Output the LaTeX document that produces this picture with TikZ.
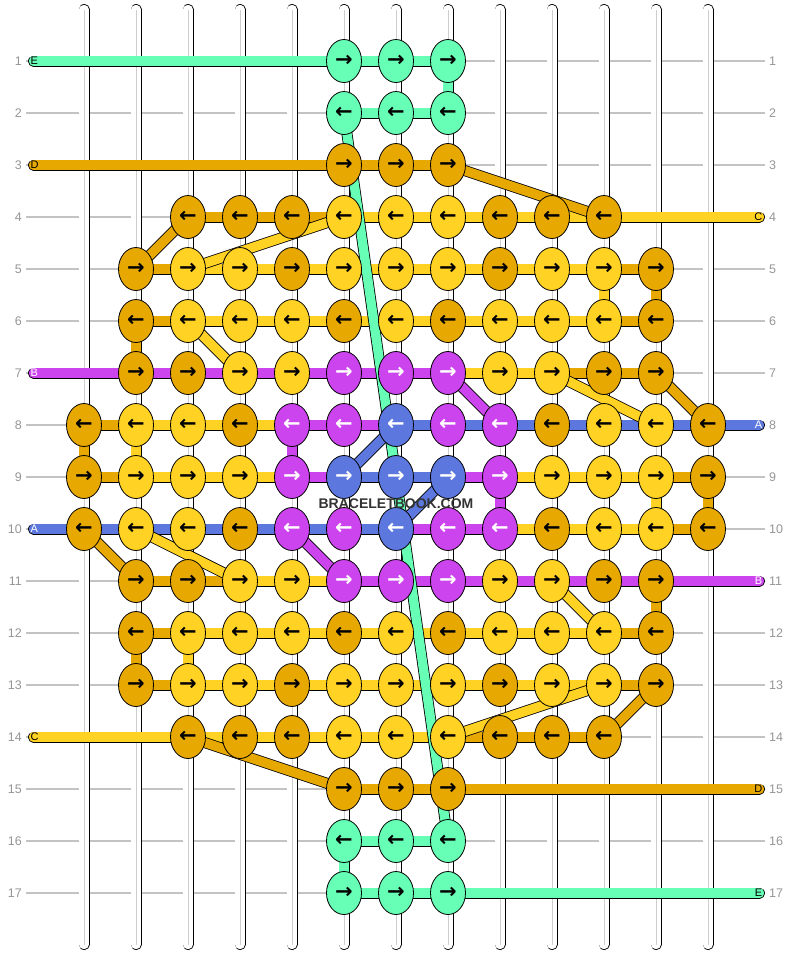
\documentclass[tikz,border=0pt]{standalone}
\usepackage{fontspec}
\setmainfont{Liberation Sans}
\newfontfamily\arrowfont{DejaVu Sans}
\usetikzlibrary{shapes.geometric}
\pgfdeclarelayer{bg}
\pgfdeclarelayer{thr}
\pgfdeclarelayer{fg}
\pgfsetlayers{bg,thr,main,fg}
\definecolor{cG}{RGB}{102,255,181}
\definecolor{cD}{RGB}{232,168,2}
\definecolor{cY}{RGB}{255,210,36}
\definecolor{cP}{RGB}{204,68,238}
\definecolor{cB}{RGB}{92,120,222}
\definecolor{tG}{RGB}{0,0,0}
\definecolor{tD}{RGB}{0,0,0}
\definecolor{tY}{RGB}{0,0,0}
\definecolor{tP}{RGB}{255,255,255}
\definecolor{tB}{RGB}{255,255,255}
\definecolor{gridc}{RGB}{195,195,195}
\definecolor{strc}{RGB}{205,205,205}
\definecolor{numc}{RGB}{150,150,150}
\definecolor{wmc}{RGB}{51,51,51}
\begin{document}
\begin{tikzpicture}[x=1pt,y=-1pt,
  knot/.style={ellipse, draw=black, line width=0.8pt, fill=c#1, text=t#1,
    minimum width=35pt, minimum height=43pt, inner sep=0pt,
    font=\arrowfont\bfseries\fontsize{21}{21}\selectfont},
  thr/.style={draw=black, line width=0.8pt, double=c#1, double distance=9.4pt},
  strand/.style={draw=black, line width=0.8pt, double=white, double distance=9.4pt, line cap=round},
  gridline/.style={draw=gridc, line width=1.1pt},
  rownum/.style={text=numc, inner sep=0pt, font=\fontsize{12.5}{12.5}\selectfont},
  lab/.style={text=t#1, inner sep=0pt, font=\fontsize{11}{11}\selectfont}
]
\useasboundingbox (0,0) rectangle (792,956);
\begin{pgfonlayer}{bg}
  \fill[white] (0,0) rectangle (792,956);
  \foreach \ro in {1,...,17} {
    \draw[gridline] (26,{9+52*\ro}) -- (765,{9+52*\ro});
    \node[rownum, anchor=east] (rl-\ro) at (22,{9+52*\ro}) {\ro};
    \node[rownum, anchor=west] (rr-\ro) at (769,{9+52*\ro}) {\ro};
  }
  \foreach \co in {1,...,13} {
    \draw[strand] ({32+52*\co},9.5) -- ({32+52*\co},944.5);
    \draw[strc, line width=0.9pt] ({32+52*\co},9.5) -- ({32+52*\co},944.5);
  }
\end{pgfonlayer}

% knots
\foreach \ro/\L in {
1/{6/G,7/G,8/G},
2/{6/G,7/G,8/G},
3/{6/D,7/D,8/D},
4/{3/D,4/D,5/D,6/Y,7/Y,8/Y,9/D,10/D,11/D},
5/{2/D,3/Y,4/Y,5/D,6/Y,7/Y,8/Y,9/D,10/Y,11/Y,12/D},
6/{2/D,3/Y,4/Y,5/Y,6/D,7/Y,8/D,9/Y,10/Y,11/Y,12/D},
7/{2/D,3/D,4/Y,5/Y,6/P,7/P,8/P,9/Y,10/Y,11/D,12/D},
8/{1/D,2/Y,3/Y,4/D,5/P,6/P,7/B,8/P,9/P,10/D,11/Y,12/Y,13/D},
9/{1/D,2/Y,3/Y,4/Y,5/P,6/B,7/B,8/B,9/P,10/Y,11/Y,12/Y,13/D},
10/{1/D,2/Y,3/Y,4/D,5/P,6/P,7/B,8/P,9/P,10/D,11/Y,12/Y,13/D},
11/{2/D,3/D,4/Y,5/Y,6/P,7/P,8/P,9/Y,10/Y,11/D,12/D},
12/{2/D,3/Y,4/Y,5/Y,6/D,7/Y,8/D,9/Y,10/Y,11/Y,12/D},
13/{2/D,3/Y,4/Y,5/D,6/Y,7/Y,8/Y,9/D,10/Y,11/Y,12/D},
14/{3/D,4/D,5/D,6/Y,7/Y,8/Y,9/D,10/D,11/D},
15/{6/D,7/D,8/D},
16/{6/G,7/G,8/G},
17/{6/G,7/G,8/G}}
{\foreach \co/\k in \L {
   \node[knot=\k] (k-\co-\ro) at ({32+52*\co},{9+52*\ro}) {\ifodd\ro\relax{→}\else{←}\fi};
}}

\begin{pgfonlayer}{thr}
% horizontal runs
\foreach \ro/\a/\b/\k in {
1/6/8/G, 2/6/8/G, 3/6/8/D,
4/3/6/D, 4/6/11/Y,
5/2/3/D, 5/3/11/Y, 5/11/12/D,
6/2/3/D, 6/3/11/Y, 6/11/12/D,
7/2/8/P, 7/8/10/Y, 7/10/12/D,
8/1/2/D, 8/2/5/Y, 8/5/7/P, 8/7/13/B,
9/1/2/D, 9/2/5/Y, 9/5/6/P, 9/6/8/B, 9/8/9/P, 9/9/12/Y, 9/12/13/D,
10/1/7/B, 10/7/9/P, 10/9/12/Y, 10/12/13/D,
11/2/4/D, 11/4/6/Y, 11/6/12/P,
12/2/3/D, 12/3/11/Y, 12/11/12/D,
13/2/3/D, 13/3/11/Y, 13/11/12/D,
14/3/8/Y, 14/8/11/D,
15/6/8/D, 16/6/8/G, 17/6/8/G}
  \draw[thr=\k] (k-\a-\ro.center) -- (k-\b-\ro.center);
% vertical stubs
\foreach \co/\ro/\k in {8/1/G, 11/5/Y, 12/5/D, 2/6/D, 1/8/D, 2/8/Y, 5/8/P,
  9/9/P, 12/9/Y, 13/9/D, 12/11/D, 2/12/D, 3/12/Y, 6/16/G} {
  \pgfmathtruncatemacro\rn{\ro+1}
  \draw[thr=\k] (k-\co-\ro.center) -- (k-\co-\rn.center);
}
% diagonals
\foreach \ca/\ra/\cb/\rb/\k in {8/3/11/4/D, 3/4/2/5/D, 6/4/3/5/Y, 3/6/4/7/Y,
  8/7/9/8/P, 10/7/12/8/Y, 12/7/13/8/D, 7/8/6/9/B, 8/9/7/10/B, 1/10/2/11/D,
  2/10/4/11/Y, 5/10/6/11/P, 10/11/11/12/Y, 11/13/8/14/Y, 12/13/11/14/D,
  3/14/6/15/D, 6/2/8/16/G}
  \draw[thr=\k] (k-\ca-\ra.center) -- (k-\cb-\rb.center);
% long threads, left
\foreach \ro/\co/\lab/\k in {1/6/E/G, 3/6/D/D, 7/2/B/P, 10/1/A/B, 14/3/C/Y} {
  \coordinate (L-\ro) at (33.5,{9+52*\ro});
  \draw[thr=\k, line cap=round] (L-\ro) -- (k-\co-\ro.center);
}
% long threads, right
\foreach \ro/\co/\lab/\k in {4/11/C/Y, 8/13/A/B, 11/12/B/P, 15/8/D/D, 17/8/E/G} {
  \coordinate (R-\ro) at (759.5,{9+52*\ro});
  \draw[thr=\k, line cap=round] (k-\co-\ro.center) -- (R-\ro);
}
\end{pgfonlayer}

\foreach \ro/\lab/\k in {1/E/G, 3/D/D, 7/B/P, 10/A/B, 14/C/Y}
  \node[lab=\k, anchor=west] (Ln-\ro) at (30.5,{9+52*\ro}) {\lab};
\foreach \ro/\lab/\k in {4/C/Y, 8/A/B, 11/B/P, 15/D/D, 17/E/G}
  \node[lab=\k, anchor=east] (Rn-\ro) at (762.5,{9+52*\ro}) {\lab};

\begin{pgfonlayer}{fg}
  \node[text=wmc, inner sep=0pt, font=\bfseries\fontsize{14}{14}\selectfont] (wm) at (396,503.5) {BRACELETBOOK.COM};
\end{pgfonlayer}
\end{tikzpicture}
\end{document}
